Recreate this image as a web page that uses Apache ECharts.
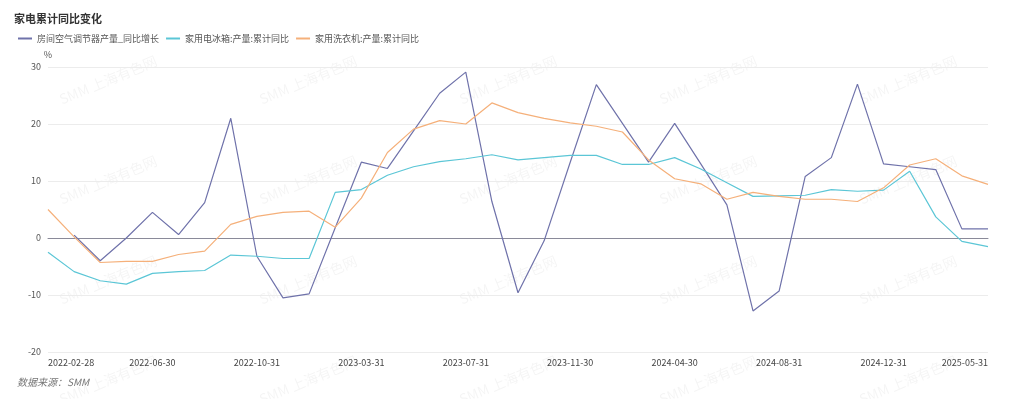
<!DOCTYPE html>
<html>
<head>
<meta charset="utf-8">
<script src="https://cdn.jsdelivr.net/npm/echarts@6/dist/echarts.min.js"></script>
<style>
  html, body { margin: 0; padding: 0; background: #fff; }
  #main { width: 1024px; height: 399px; }
</style>
</head>
<body>
<div id="main"></div>
<script>
// 月度日期（1月数据合并到2月）
const dates = [
  '2022-02-28', '2022-03-31', '2022-04-30', '2022-05-31', '2022-06-30', '2022-07-31',
  '2022-08-31', '2022-09-30', '2022-10-31', '2022-11-30', '2022-12-31',
  '2023-02-28', '2023-03-31', '2023-04-30', '2023-05-31', '2023-06-30', '2023-07-31',
  '2023-08-31', '2023-09-30', '2023-10-31', '2023-11-30', '2023-12-31',
  '2024-02-29', '2024-03-31', '2024-04-30', '2024-05-31', '2024-06-30', '2024-07-31',
  '2024-08-31', '2024-09-30', '2024-10-31', '2024-11-30', '2024-12-31',
  '2025-02-28', '2025-03-31', '2025-04-30', '2025-05-31'
];

const airCon = [
  null, 0.5, -4.0, 0, 4.5, 0.6, 6.2, 21.0, -3.2, -10.5, -9.8,
  1.8, 13.3, 12.2, 18.8, 25.4, 29.1, 6.4, -9.6, -0.5, 13.3, 26.9,
  20.1, 13.3, 20.1, 13.0, 5.8, -12.8, -9.3, 10.8, 14.1, 27.0, 13.0,
  12.5, 12.0, 1.6, 1.6
];

const fridge = [
  -2.5, -5.9, -7.5, -8.1, -6.2, -5.9, -5.7, -3.0, -3.2, -3.6, -3.6,
  8.0, 8.5, 11.0, 12.5, 13.4, 13.9, 14.6, 13.7, 14.1, 14.5, 14.5,
  12.9, 12.9, 14.1, 12.1, 9.7, 7.3, 7.4, 7.5, 8.5, 8.2, 8.4,
  11.7, 3.7, -0.6, -1.5
];

const washer = [
  5.0, 0.2, -4.3, -4.1, -4.1, -2.9, -2.3, 2.4, 3.8, 4.5, 4.7,
  1.9, 7.0, 15.0, 19.1, 20.6, 20.0, 23.7, 22.0, 21.0, 20.2, 19.6,
  18.6, 13.7, 10.4, 9.5, 6.8, 8.0, 7.3, 6.8, 6.8, 6.4, 8.8,
  12.8, 13.9, 10.9, 9.4
];

const seriesNames = ['房间空气调节器产量_同比增长', '家用电冰箱:产量:累计同比', '家用洗衣机:产量:累计同比'];
const colors = ['#6f72aa', '#5bc6d6', '#f5b07a'];

// 水印
const marks = [];
[108, 308, 508, 708, 908].forEach(x => {
  [80, 180, 280, 380].forEach(y => {
    marks.push({
      type: 'text',
      x: x,
      y: y,
      rotation: Math.PI / 8,
      silent: true,
      z: 0,
      style: {
        text: 'SMM 上海有色网',
        fill: 'rgba(0,0,0,0.045)',
        font: '14px "Noto Sans CJK SC", sans-serif',
        align: 'center',
        verticalAlign: 'middle'
      }
    });
  });
});

const chart = echarts.init(document.getElementById('main'));
chart.setOption({
  animation: false,
  color: colors,
  textStyle: { fontFamily: '"Noto Sans CJK SC", "Noto Sans", sans-serif' },
  title: {
    text: '家电累计同比变化',
    left: 9,
    top: 8,
    textStyle: { fontSize: 11, fontWeight: 'bold', color: '#333' }
  },
  legend: {
    left: 13,
    top: 29,
    icon: 'rect',
    itemWidth: 14,
    itemHeight: 2,
    itemGap: 7,
    textStyle: { fontSize: 9, color: '#555' },
    data: seriesNames
  },
  graphic: marks.concat([{
    type: 'text',
    left: 17,
    top: 377,
    style: {
      text: '数据来源：SMM',
      fill: '#777',
      font: 'italic 10px "Noto Sans CJK SC", sans-serif'
    }
  }]),
  grid: { left: 48, right: 36, top: 67, bottom: 47, containLabel: false },
  xAxis: {
    type: 'category',
    data: dates,
    boundaryGap: false,
    axisLine: { onZero: true, lineStyle: { color: '#8a8a99', width: 1 } },
    axisTick: { show: false },
    axisLabel: {
      interval: 3,
      color: '#444',
      fontSize: 9,
      margin: 6,
      alignMinLabel: 'left',
      alignMaxLabel: 'right'
    }
  },
  yAxis: {
    type: 'value',
    name: '%',
    nameGap: 8,
    nameTextStyle: { color: '#555', fontSize: 9 },
    min: -20,
    max: 30,
    interval: 10,
    axisLine: { show: false },
    axisTick: { show: false },
    axisLabel: { color: '#555', fontSize: 9, margin: 7 },
    splitLine: { lineStyle: { color: '#ececec' } }
  },
  series: [
    { name: seriesNames[0], type: 'line', data: airCon, symbol: 'none', lineStyle: { width: 1.2 } },
    { name: seriesNames[1], type: 'line', data: fridge, symbol: 'none', lineStyle: { width: 1.2 } },
    { name: seriesNames[2], type: 'line', data: washer, symbol: 'none', lineStyle: { width: 1.2 } }
  ]
});
</script>
</body>
</html>
